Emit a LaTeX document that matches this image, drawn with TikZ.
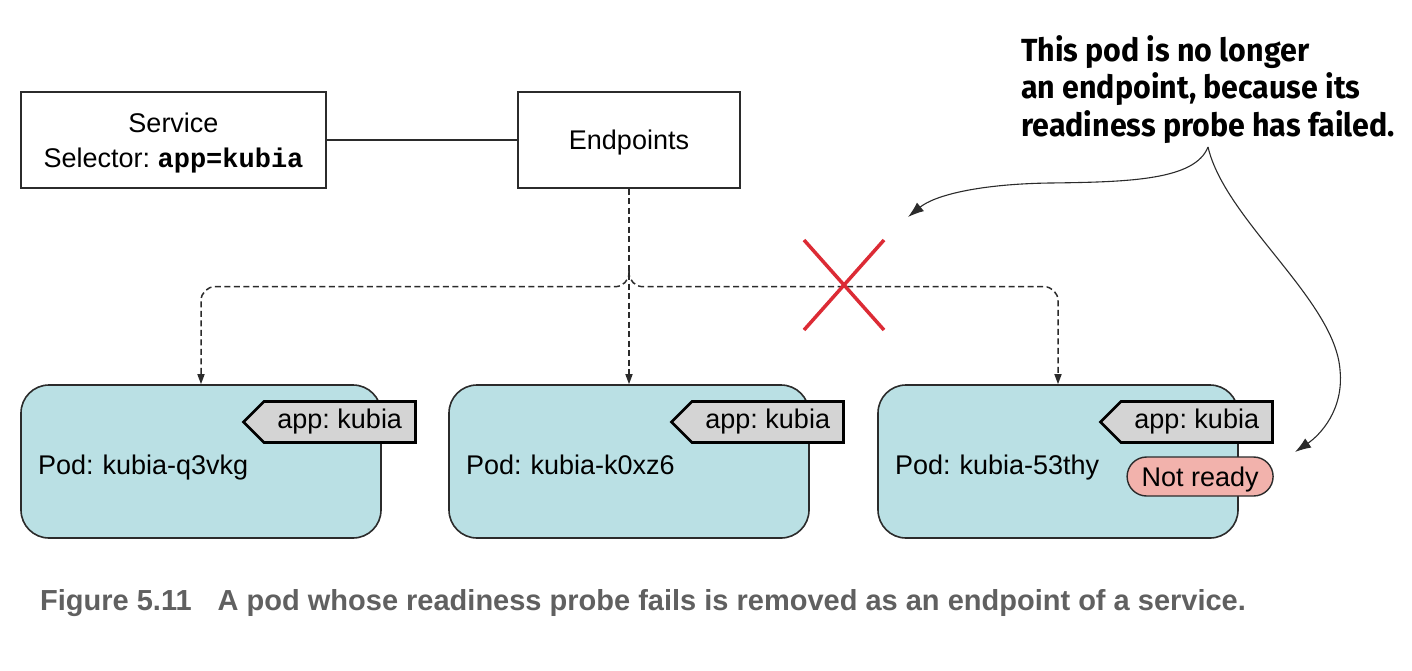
\documentclass[tikz,border=0pt]{standalone}
\usepackage{fontspec}
\setmainfont{Liberation Sans}
\setmonofont{Liberation Mono}
\newfontfamily\notefont{Fira Sans}[FakeStretch=0.95]
\usepackage{tikz}
\usetikzlibrary{arrows.meta,positioning,calc,shapes.symbols,shapes.misc}
\definecolor{podfill}{HTML}{BAE0E4}
\definecolor{tagfill}{HTML}{D4D4D4}
\definecolor{notready}{HTML}{F2B2AC}
\definecolor{crossred}{HTML}{DC2B35}
\definecolor{capgray}{HTML}{606060}
\definecolor{linegray}{HTML}{2B2B2B}
\frenchspacing

\begin{document}
\begin{tikzpicture}[x=1pt, y=-1pt,
  font=\fontsize{27}{35}\selectfont,
  box/.style={draw=linegray, line width=1.4pt, align=center, minimum height=96pt,
    text depth=0pt},
  pod/.style={draw=linegray, line width=1.6pt, fill=podfill, rounded corners=28pt,
    minimum width=360pt, minimum height=153pt, text width=326pt, align=left,
    inner xsep=17pt, text height=25pt, text depth=0pt},
  tag/.style={signal, signal to=west, draw=black, line width=2.6pt, fill=tagfill,
    minimum width=172pt, minimum height=41pt, inner sep=2pt},
  ready/.style={rounded rectangle, draw=linegray, line width=1.4pt, fill=notready,
    minimum width=150pt, minimum height=39pt, inner sep=2pt},
  conn/.style={draw=linegray, line width=1.5pt, dash pattern=on 6pt off 3.5pt,
    -{Triangle[length=10pt,width=7pt]}},
  arr/.style={draw=linegray, line width=1.1pt, -{Latex[length=16pt,width=11pt]}},
  note/.style={font=\notefont\bfseries\fontsize{32}{37.5}\selectfont, align=left,
    inner sep=0pt},
  caption/.style={font=\bfseries\fontsize{29}{34}\selectfont, text=capgray,
    inner sep=0pt}]
\useasboundingbox (0,0) rectangle (1412,670);
\node[box, minimum width=305pt] (svc) at (173.5,140)
  {Service\\Selector: \texttt{\textbf{app=kubia}}};
\node[box, minimum width=222pt] (ep) at (629,140) {Endpoints};
\draw[draw=linegray, line width=1.4pt] (svc) -- (ep);
\node[pod] (pod1) at (201,461.5) {Pod: kubia-q3vkg};
\node[pod] (pod2) at (629,461.5) {Pod: kubia-k0xz6};
\node[pod] (pod3) at (1058,461.5) {Pod: kubia-53thy};
\foreach \p/\t in {pod1/tag1,pod2/tag2,pod3/tag3}
  \node[tag, anchor=east] (\t) at ($(\p.east)+(35,-39.5)$) {app: kubia};
\node[ready, anchor=east, text depth=0pt] (nr) at ($(pod3.east)+(35,15)$) {Not ready};
\coordinate (split) at ($(ep.south)+(0,82)$);
\draw[conn] (ep.south) -- (pod2.north);
\draw[conn, rounded corners=14pt] (split) -- ++(0,16) -| (pod1.north);
\draw[conn, rounded corners=14pt] (split) -- ++(0,16) -| (pod3.north);
\coordinate (cross) at (844,285);
\draw[crossred, line width=3.5pt] ($(cross)+(-40,-45)$) -- ($(cross)+(40,45)$)
  ($(cross)+(40,-45)$) -- ($(cross)+(-40,45)$);
\node[note, anchor=north west] (note) at (1021,35)
  {This pod is no longer\\an endpoint, because its\\readiness probe has failed.};
\coordinate (fork) at (1208,147);
\coordinate (tipa) at (908,217);
\coordinate (tipb) at (1295,452);
\draw[arr] (fork) .. controls (1195,180) and (1130,182) .. (1050,183)
  .. controls (980,184) and (935,195) .. (tipa);
\draw[arr] (fork) .. controls (1225,220) and (1335,300) .. (1340,370)
  .. controls (1344,410) and (1320,435) .. (tipb);
\node[caption, anchor=base west] (cap) at (40,610)
  {Figure 5.11\hspace{26pt}A pod whose readiness probe fails is removed as an endpoint of a service.};
\end{tikzpicture}
\end{document}
